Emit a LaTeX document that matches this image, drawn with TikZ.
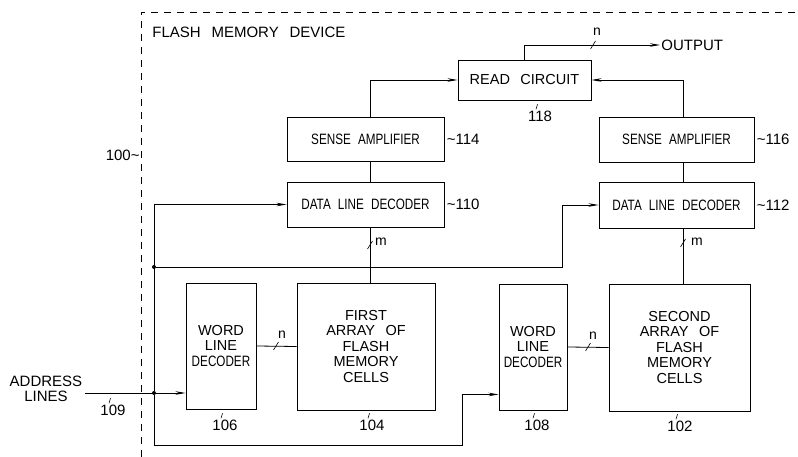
\documentclass[tikz,border=0pt]{standalone}
\usepackage{fontspec}
\setmainfont{Liberation Sans}[WordSpace=2.6]
\newfontfamily\narrowfont{Liberation Sans}[FakeStretch=0.78,WordSpace=2.2]
\usetikzlibrary{arrows.meta, positioning, calc}

\begin{document}
\begin{tikzpicture}[x=1pt, y=-1pt, line width=0.8pt,
  block/.style={draw, line width=0.9pt, inner sep=0pt, align=center,
    font=\fontsize{14.5}{15.5}\selectfont},
  ref/.style={inner sep=1pt, font=\fontsize{15}{16}\selectfont},
  arr/.style={-{Stealth[length=10pt,width=3.5pt]}},
  junc/.style={circle, fill, inner sep=0pt, minimum size=4pt}]
  \useasboundingbox (0,0) rectangle (798,457);
  % Device outline
  \draw[dash pattern=on 7pt off 6pt, line width=0.9pt] (141,457) -- (141,12) -- (798,12);
  \node[ref, anchor=base west] (title) at (151,37.3) {FLASH MEMORY DEVICE};
  \node[ref, anchor=east] (r100) at (141,155) {100\textasciitilde};
  % Blocks
  \node[block, minimum width=133pt, minimum height=40pt] (rc) at (524.5,80) {READ CIRCUIT};
  \node[block, minimum width=157pt, minimum height=44pt] (sa1) at (365.5,139) {\fontsize{15}{16}\narrowfont SENSE AMPLIFIER};
  \node[block, minimum width=157pt, minimum height=45pt] (dld1) at (365.5,204.5) {\fontsize{15}{16}\narrowfont DATA LINE DECODER};
  \node[block, minimum width=155pt, minimum height=45pt] (sa2) at (676.5,139.5) {\fontsize{15}{16}\narrowfont SENSE AMPLIFIER};
  \node[block, minimum width=155pt, minimum height=46pt] (dld2) at (676.5,205) {\fontsize{15}{16}\narrowfont DATA LINE DECODER};
  \node[block, minimum width=70pt, minimum height=126pt] (wld1) at (221,346) {WORD\\LINE\\{\fontsize{15}{16}\narrowfont DECODER}};
  \node[block, minimum width=138pt, minimum height=127pt] (arr1) at (366,346.5) {FIRST\\ARRAY OF\\FLASH\\MEMORY\\CELLS};
  \node[block, minimum width=68pt, minimum height=126pt] (wld2) at (533,347) {WORD\\LINE\\{\fontsize{15}{16}\narrowfont DECODER}};
  \node[block, minimum width=141pt, minimum height=127pt] (arr2) at (679.5,347.5) {SECOND\\ARRAY OF\\FLASH\\MEMORY\\CELLS};
  % Reference numerals
  \node[ref, anchor=west] (r114) at ([xshift=1pt]sa1.east) {\textasciitilde114};
  \node[ref, anchor=west] (r110) at ([xshift=1pt]dld1.east) {\textasciitilde110};
  \node[ref, anchor=west] (r116) at ([xshift=1pt]sa2.east) {\textasciitilde116};
  \node[ref, anchor=west] (r112) at ([xshift=1pt]dld2.east) {\textasciitilde112};
  \node[ref] (r118) at (540,116) {118};
  \node[ref] (r106) at (225,425) {106};
  \node[ref] (r104) at (372,425) {104};
  \node[ref] (r108) at (537,425) {108};
  \node[ref] (r102) at (680,426) {102};
  \node[ref] (r109) at (113,410) {109};
  \foreach \r in {r118, r106, r104, r108, r102, r109}
    \draw[line width=0.6pt] ($(\r.north)+(-4,0)$) -- ++(1.5,-5);
  % Column lines
  \coordinate (xl) at (370,0);
  \coordinate (xr) at (683,0);
  \draw[arr] (xl |- sa1.north) |- (rc.west);
  \draw[arr] (xr |- sa2.north) |- (rc.east);
  \draw (xl |- sa1.south) -- (xl |- dld1.north);
  \draw (xr |- sa2.south) -- (xr |- dld2.north);
  \draw (xl |- dld1.south) -- (xl |- arr1.north);
  \draw (xr |- dld2.south) -- (xr |- arr2.north);
  % Output
  \node[ref, anchor=west] (outl) at (660,45) {OUTPUT};
  \draw[arr] (rc.north) |- (outl.west);
  % Address lines
  \node[align=center, font=\fontsize{15}{14.5}\selectfont] (addr) at (46,389) {ADDRESS\\LINES};
  \coordinate (a0) at (85,393);
  \node[junc] (j1) at (154,393) {};
  \node[junc] (j2) at (154,267) {};
  \coordinate (br) at (562,0);
  \coordinate (bb) at (462.7,445);
  \draw[arr] (a0) -- (a0 -| wld1.west);
  \draw[arr] (j1) |- (dld1.west);
  \draw[arr] (j2) -- (j2 -| br) |- (dld2.west);
  \draw[arr] (j1) |- (bb) |- ($(wld2.south west)+(0,-16)$);
  % Word lines
  \draw (wld1.east) -- (arr1.west);
  \draw (wld2.east) -- (arr2.west);
  % Bus widths
  \foreach \x/\y in {276/346, 588/347, 593/45, 370/245, 683/243}
    \draw[line width=0.6pt] (\x,\y) +(-2.5,4) -- +(2.5,-4);
  \node[ref, font=\fontsize{14}{15}\selectfont] (n1) at (282,335) {n};
  \node[ref, font=\fontsize{14}{15}\selectfont] (n2) at (593,336) {n};
  \node[ref, font=\fontsize{14}{15}\selectfont] (n3) at (597,32) {n};
  \node[ref, font=\fontsize{14}{15}\selectfont] (m1) at (381,242) {m};
  \node[ref, font=\fontsize{14}{15}\selectfont] (m2) at (697,242) {m};
\end{tikzpicture}
\end{document}
